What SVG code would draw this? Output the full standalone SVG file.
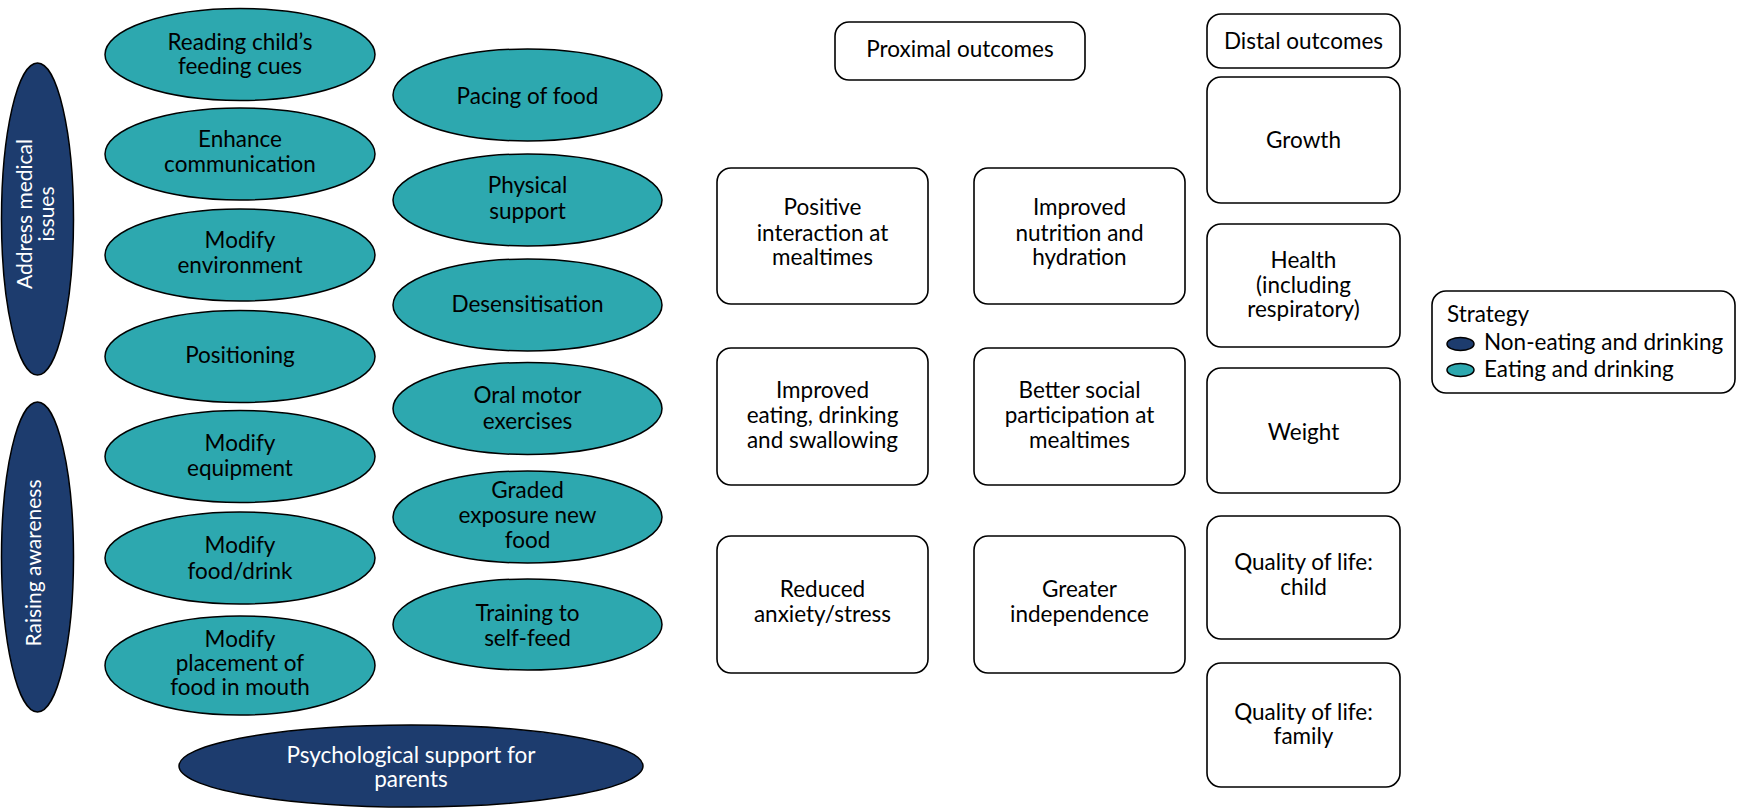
<svg xmlns="http://www.w3.org/2000/svg" width="1740" height="808" viewBox="0 0 1740 808">
<style>
text{font-family:Lato,"Noto Sans",sans-serif;font-size:22.5px;fill:#000;text-anchor:middle}
.teal{fill:#2DA8AF;stroke:#000;stroke-width:1.5}
.navy{fill:#1D3C6E;stroke:#000;stroke-width:1.5}
.box{fill:#fff;stroke:#000;stroke-width:1.6}
.w{fill:#fff}
.v{font-size:21px}
.lg{text-anchor:start}
</style>
<rect width="1740" height="808" fill="#fff"/>
<g id="connectors"/>
<g id="address-medical"><ellipse class="navy" cx="37.5" cy="219" rx="36" ry="156"/>
<text class="w v" transform="translate(32,214) rotate(-90)"><tspan x="0" y="0">Address medical</tspan><tspan x="0" y="22">issues</tspan></text></g>
<g id="raising-awareness"><ellipse class="navy" cx="37.5" cy="557" rx="36" ry="155"/>
<text class="w v" transform="translate(41,563) rotate(-90)">Raising awareness</text></g>
<g id="reading-cues"><ellipse class="teal" cx="240" cy="54.5" rx="135" ry="46"/>
<text><tspan x="240" y="50">Reading child’s</tspan><tspan x="240" y="74">feeding cues</tspan></text></g>
<g id="enhance-communication"><ellipse class="teal" cx="240" cy="154" rx="135" ry="46"/>
<text><tspan x="240" y="147">Enhance</tspan><tspan x="240" y="172">communication</tspan></text></g>
<g id="modify-environment"><ellipse class="teal" cx="240" cy="255" rx="135" ry="46"/>
<text><tspan x="240" y="248">Modify</tspan><tspan x="240" y="273">environment</tspan></text></g>
<g id="positioning"><ellipse class="teal" cx="240" cy="356.5" rx="135" ry="46"/>
<text x="240" y="363">Positioning</text></g>
<g id="modify-equipment"><ellipse class="teal" cx="240" cy="456.5" rx="135" ry="46"/>
<text><tspan x="240" y="451">Modify</tspan><tspan x="240" y="476">equipment</tspan></text></g>
<g id="modify-food-drink"><ellipse class="teal" cx="240" cy="558" rx="135" ry="46"/>
<text><tspan x="240" y="553">Modify</tspan><tspan x="240" y="579">food/drink</tspan></text></g>
<g id="modify-placement"><ellipse class="teal" cx="240" cy="665.5" rx="135" ry="49.5"/>
<text><tspan x="240" y="647">Modify</tspan><tspan x="240" y="671">placement of</tspan><tspan x="240" y="695">food in mouth</tspan></text></g>
<g id="pacing-food"><ellipse class="teal" cx="527.5" cy="95" rx="134.5" ry="46"/>
<text x="527.5" y="104">Pacing of food</text></g>
<g id="physical-support"><ellipse class="teal" cx="527.5" cy="200" rx="134.5" ry="46"/>
<text><tspan x="527.5" y="193">Physical</tspan><tspan x="527.5" y="219">support</tspan></text></g>
<g id="desensitisation"><ellipse class="teal" cx="527.5" cy="305" rx="134.5" ry="46"/>
<text x="527.5" y="312">Desensitisation</text></g>
<g id="oral-motor"><ellipse class="teal" cx="527.5" cy="408.5" rx="134.5" ry="46"/>
<text><tspan x="527.5" y="403">Oral motor</tspan><tspan x="527.5" y="429">exercises</tspan></text></g>
<g id="graded-exposure"><ellipse class="teal" cx="527.5" cy="517" rx="134.5" ry="46"/>
<text><tspan x="527.5" y="498">Graded</tspan><tspan x="527.5" y="523">exposure new</tspan><tspan x="527.5" y="548">food</tspan></text></g>
<g id="training-self-feed"><ellipse class="teal" cx="527.5" cy="624.5" rx="134.5" ry="45.5"/>
<text><tspan x="527.5" y="621">Training to</tspan><tspan x="527.5" y="646">self-feed</tspan></text></g>
<g id="psychological-support"><ellipse class="navy" cx="411" cy="766" rx="232" ry="41"/>
<text class="w"><tspan x="411" y="763">Psychological support for</tspan><tspan x="411" y="787">parents</tspan></text></g>
<g id="proximal-outcomes"><rect class="box" x="835" y="22" width="250" height="58" rx="14"/>
<text x="960" y="57">Proximal outcomes</text></g>
<g id="positive-interaction"><rect class="box" x="717" y="168" width="211" height="136" rx="14"/>
<text><tspan x="822.5" y="215">Positive</tspan><tspan x="822.5" y="241">interaction at</tspan><tspan x="822.5" y="265">mealtimes</tspan></text></g>
<g id="improved-nutrition"><rect class="box" x="974" y="168" width="211" height="136" rx="14"/>
<text><tspan x="1079.5" y="215">Improved</tspan><tspan x="1079.5" y="241">nutrition and</tspan><tspan x="1079.5" y="265">hydration</tspan></text></g>
<g id="improved-eating"><rect class="box" x="717" y="348" width="211" height="137" rx="14"/>
<text><tspan x="822.5" y="398">Improved</tspan><tspan x="822.5" y="423">eating, drinking</tspan><tspan x="822.5" y="448">and swallowing</tspan></text></g>
<g id="better-social"><rect class="box" x="974" y="348" width="211" height="137" rx="14"/>
<text><tspan x="1079.5" y="398">Better social</tspan><tspan x="1079.5" y="423">participation at</tspan><tspan x="1079.5" y="448">mealtimes</tspan></text></g>
<g id="reduced-anxiety"><rect class="box" x="717" y="536" width="211" height="137" rx="14"/>
<text><tspan x="822.5" y="597">Reduced</tspan><tspan x="822.5" y="622">anxiety/stress</tspan></text></g>
<g id="greater-independence"><rect class="box" x="974" y="536" width="211" height="137" rx="14"/>
<text><tspan x="1079.5" y="597">Greater</tspan><tspan x="1079.5" y="622">independence</tspan></text></g>
<g id="distal-outcomes"><rect class="box" x="1207" y="14" width="193" height="54" rx="14"/>
<text x="1303.5" y="49">Distal outcomes</text></g>
<g id="growth"><rect class="box" x="1207" y="77" width="193" height="126" rx="14"/>
<text x="1303.5" y="148">Growth</text></g>
<g id="health"><rect class="box" x="1207" y="224" width="193" height="123" rx="14"/>
<text><tspan x="1303.5" y="268">Health</tspan><tspan x="1303.5" y="293">(including</tspan><tspan x="1303.5" y="317">respiratory)</tspan></text></g>
<g id="weight"><rect class="box" x="1207" y="368" width="193" height="125" rx="14"/>
<text x="1303.5" y="440">Weight</text></g>
<g id="qol-child"><rect class="box" x="1207" y="516" width="193" height="123" rx="14"/>
<text><tspan x="1303.5" y="570">Quality of life:</tspan><tspan x="1303.5" y="595">child</tspan></text></g>
<g id="qol-family"><rect class="box" x="1207" y="663" width="193" height="124" rx="14"/>
<text><tspan x="1303.5" y="720">Quality of life:</tspan><tspan x="1303.5" y="744">family</tspan></text></g>
<g id="legend"><rect class="box" x="1432" y="291" width="303" height="102" rx="14"/>
<text class="lg" x="1447" y="322">Strategy</text>
<ellipse class="navy" cx="1460.5" cy="344" rx="13.5" ry="6.5"/>
<text class="lg" x="1484" y="350">Non-eating and drinking</text>
<ellipse class="teal" cx="1460.5" cy="370" rx="13.5" ry="6.5"/>
<text class="lg" x="1484" y="377">Eating and drinking</text></g>
</svg>
